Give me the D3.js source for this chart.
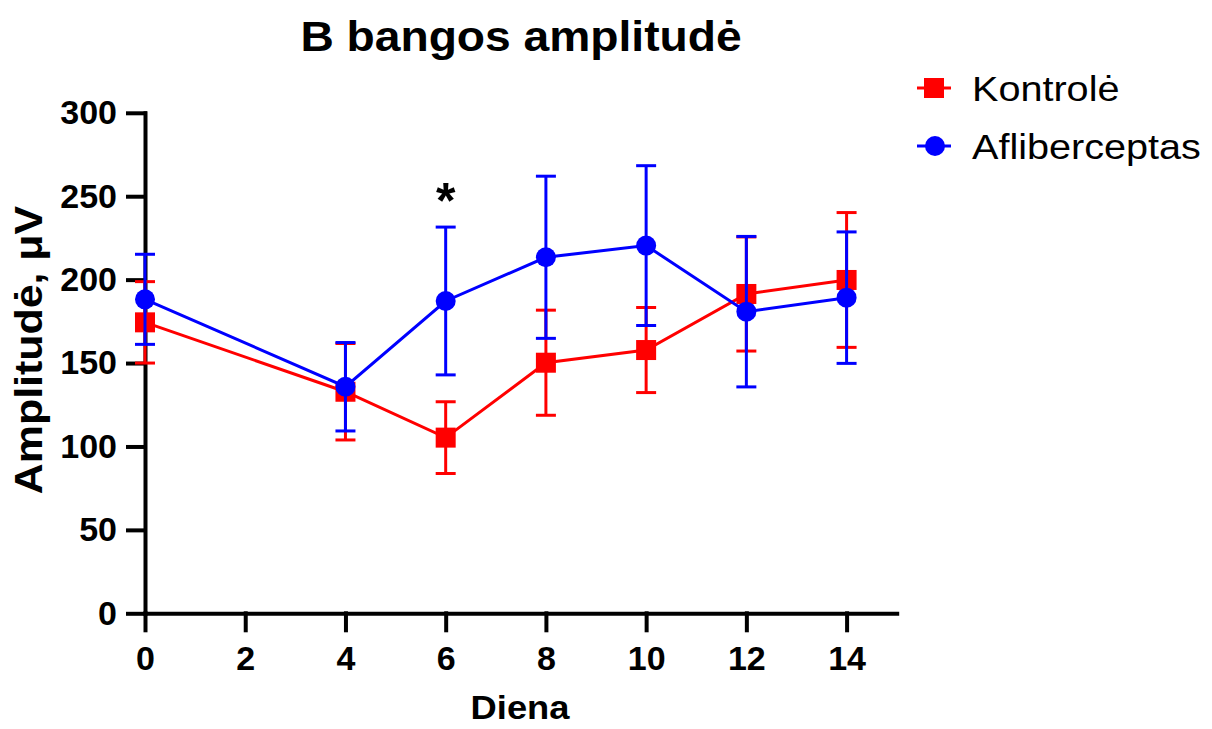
<!DOCTYPE html>
<html>
<head>
<meta charset="utf-8">
<script src="https://cdn.jsdelivr.net/npm/d3@7"></script>
<style>
  html, body { margin: 0; padding: 0; background: #fff; }
  svg { display: block; font-family: Arial, "Liberation Sans", sans-serif; }
</style>
</head>
<body>
<svg id="chart" width="1212" height="729"></svg>
<script>
const days = [0, 4, 6, 8, 10, 12, 14];
const xTicks = [0, 2, 4, 6, 8, 10, 12, 14];
const yTicks = [0, 50, 100, 150, 200, 250, 300];
const kontroleMean = [174.4, 132.8, 105.3, 150.2, 157.8, 191.4, 199.8];
const kontroleErr  = [24.4, 28.9, 21.5, 31.5, 25.5, 34.2, 40.4];
const aflibMean = [188.2, 135.8, 187.2, 213.4, 220.4, 180.8, 189.2];
const aflibErr  = [27.0, 26.5, 44.3, 48.6, 47.9, 45.1, 39.4];
const seriesNames = ["Kontrolė", "Afliberceptas"];
const seriesColors = ["#ff0000", "#0000ff"];
const titleText = "B bangos amplitudė";
const xTitle = "Diena";
const yTitle = "Amplitudė, μV";
const signifDay = 6;

const svg = d3.select("#chart");
const x = d3.scaleLinear().domain([0, 15]).range([145, 896.7]);
const y = d3.scaleLinear().domain([0, 300]).range([613.3, 112.8]);

// Axes
const yAxis = d3.axisLeft(y).tickValues(yTicks).tickSize(17).tickSizeOuter(0).tickPadding(11);
const xAxis = d3.axisBottom(x).tickValues(xTicks).tickSize(17).tickSizeOuter(0).tickPadding(16);

const gy = svg.append("g").attr("transform", `translate(${x(0)},0)`).call(yAxis);
const gx = svg.append("g").attr("transform", `translate(0,${y(0)})`).call(xAxis);
[gx, gy].forEach(g => {
  g.select(".domain").attr("stroke", "#000").attr("stroke-width", 4).attr("stroke-linecap", "square");
  g.selectAll(".tick line").attr("stroke", "#000").attr("stroke-width", 4).attr("stroke-linecap", "square");
  g.selectAll(".tick text").attr("fill", "#000").attr("font-size", 34).attr("font-weight", "bold")
    .attr("font-family", "Arial, 'Liberation Sans', sans-serif");
});

// Series
const series = [
  { name: seriesNames[0], color: seriesColors[0], mean: kontroleMean, err: kontroleErr, shape: "square" },
  { name: seriesNames[1], color: seriesColors[1], mean: aflibMean, err: aflibErr, shape: "circle" }
];

const line = d3.line().x(d => x(d.day)).y(d => y(d.v));
const capW = 10;

series.forEach(s => {
  const pts = days.map((d, i) => ({ day: d, v: s.mean[i], e: s.err[i] }));
  const g = svg.append("g");
  pts.forEach(p => {
    g.append("line").attr("x1", x(p.day)).attr("x2", x(p.day))
      .attr("y1", y(p.v - p.e)).attr("y2", y(p.v + p.e))
      .attr("stroke", s.color).attr("stroke-width", 3);
    [p.v - p.e, p.v + p.e].forEach(v => {
      g.append("line").attr("x1", x(p.day) - capW).attr("x2", x(p.day) + capW)
        .attr("y1", y(v)).attr("y2", y(v))
        .attr("stroke", s.color).attr("stroke-width", 3);
    });
  });
  g.append("path").datum(pts).attr("d", line).attr("fill", "none")
    .attr("stroke", s.color).attr("stroke-width", 3);
  if (s.shape === "square") {
    g.selectAll("rect").data(pts).join("rect")
      .attr("x", d => x(d.day) - 10).attr("y", d => y(d.v) - 10)
      .attr("width", 20).attr("height", 20).attr("fill", s.color);
  } else {
    g.selectAll("circle").data(pts).join("circle")
      .attr("cx", d => x(d.day)).attr("cy", d => y(d.v)).attr("r", 10).attr("fill", s.color);
  }
});

// significance asterisk
const sigIdx = days.indexOf(signifDay);
svg.append("text").attr("x", x(signifDay)).attr("y", y(aflibMean[sigIdx] + aflibErr[sigIdx]) - 9)
  .attr("text-anchor", "middle").attr("font-size", 50).attr("font-weight", "bold").text("*");

// Title
svg.append("text").attr("transform", "translate(521,51) scale(1.1,1)")
  .attr("text-anchor", "middle").attr("font-size", 42).attr("font-weight", "bold").text(titleText);

// Axis titles
svg.append("text").attr("transform", "translate(520,719) scale(1.1,1)")
  .attr("text-anchor", "middle").attr("font-size", 33).attr("font-weight", "bold").text(xTitle);
svg.append("text").attr("transform", "translate(42,350) rotate(-90) scale(1.1,1)")
  .attr("text-anchor", "middle").attr("font-size", 39).attr("font-weight", "bold").text(yTitle);

// Legend
const legendY = [88, 146];
series.forEach((s, i) => {
  const g = svg.append("g");
  g.append("line").attr("x1", 917).attr("x2", 951).attr("y1", legendY[i]).attr("y2", legendY[i])
    .attr("stroke", s.color).attr("stroke-width", 3);
  if (s.shape === "square") {
    g.append("rect").attr("x", 924).attr("y", legendY[i] - 10).attr("width", 20).attr("height", 20).attr("fill", s.color);
  } else {
    g.append("circle").attr("cx", 935).attr("cy", legendY[i]).attr("r", 10).attr("fill", s.color);
  }
  g.append("text").attr("transform", `translate(972,${legendY[i] + 13}) scale(1.1,1)`)
    .attr("font-size", 36).attr("fill", "#000").text(s.name);
});
</script>
</body>
</html>
